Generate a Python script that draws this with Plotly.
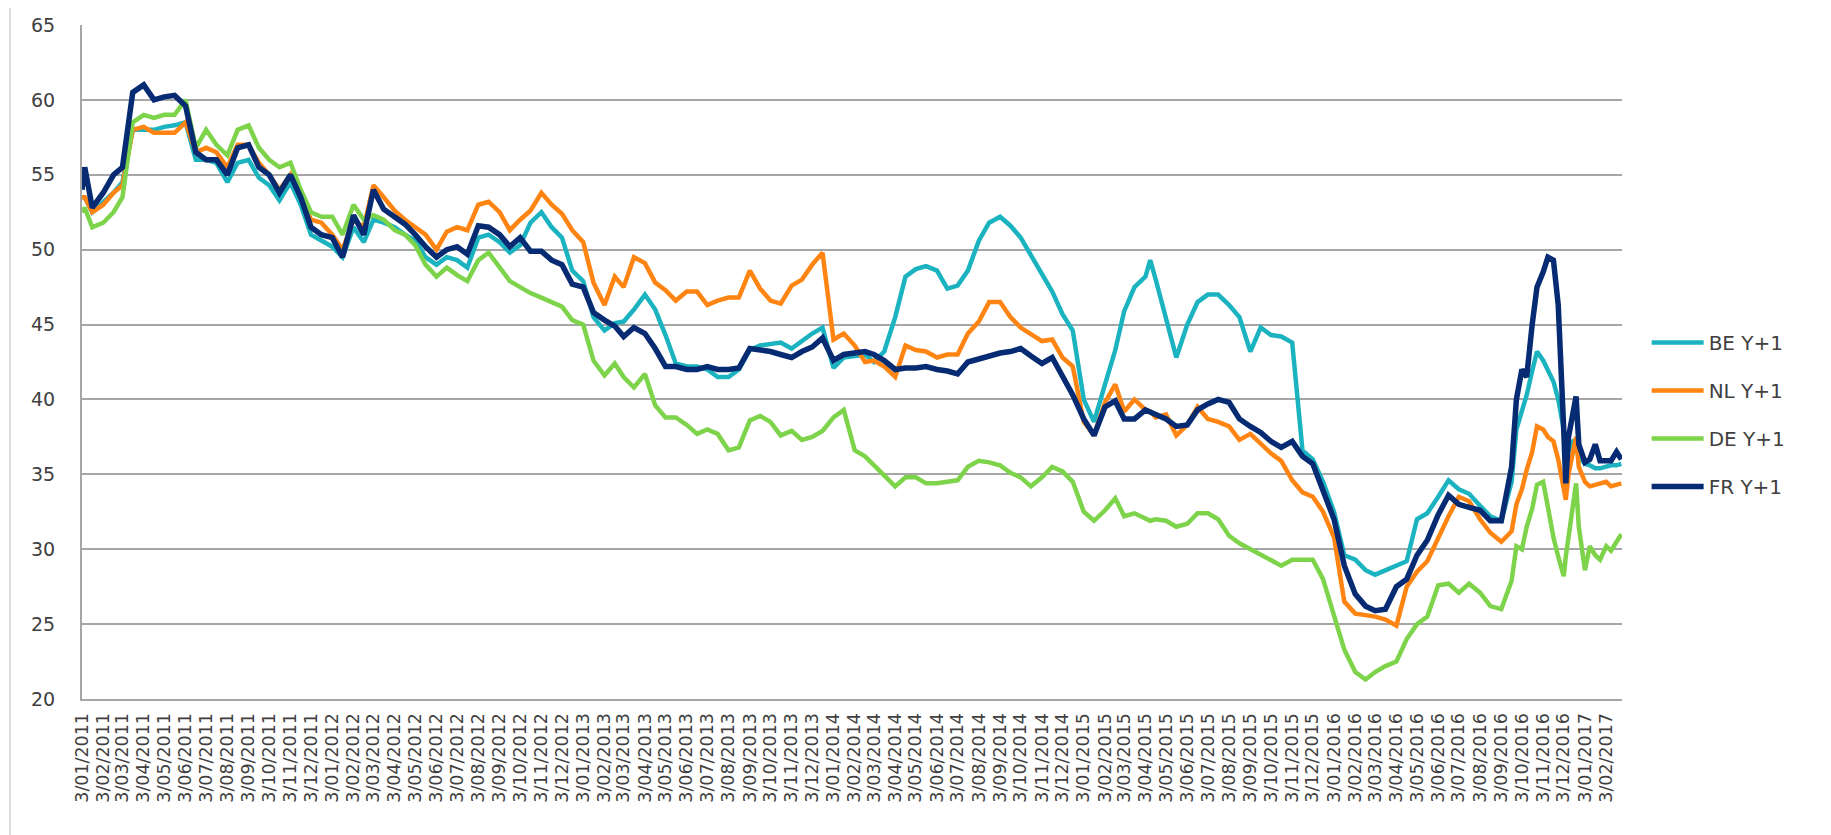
import plotly.graph_objects as go

# ---- data ----
dates = [
    "2011-01-03", "2011-01-07", "2011-01-18", "2011-02-03", "2011-02-18", "2011-03-03", "2011-03-18",
    "2011-04-03", "2011-04-18", "2011-05-03", "2011-05-18", "2011-06-03", "2011-06-18", "2011-07-03",
    "2011-07-18", "2011-08-03", "2011-08-18", "2011-09-03", "2011-09-18", "2011-10-03", "2011-10-18",
    "2011-11-03", "2011-11-18", "2011-12-03", "2011-12-18",
    "2012-01-03", "2012-01-18", "2012-02-03", "2012-02-18", "2012-03-03", "2012-03-18", "2012-04-03",
    "2012-04-18", "2012-05-03", "2012-05-18", "2012-06-03", "2012-06-18", "2012-07-03", "2012-07-18",
    "2012-08-03", "2012-08-18", "2012-09-03", "2012-09-18", "2012-10-03", "2012-10-18", "2012-11-03",
    "2012-11-18", "2012-12-03", "2012-12-18",
    "2013-01-03", "2013-01-18", "2013-02-03", "2013-02-18", "2013-03-03", "2013-03-18", "2013-04-03",
    "2013-04-18", "2013-05-03", "2013-05-18", "2013-06-03", "2013-06-18", "2013-07-03", "2013-07-18",
    "2013-08-03", "2013-08-18", "2013-09-03", "2013-09-18", "2013-10-03", "2013-10-18", "2013-11-03",
    "2013-11-18", "2013-12-03", "2013-12-18",
    "2014-01-03", "2014-01-18", "2014-02-03", "2014-02-18", "2014-03-03", "2014-03-18", "2014-04-03",
    "2014-04-18", "2014-05-03", "2014-05-18", "2014-06-03", "2014-06-18", "2014-07-03", "2014-07-18",
    "2014-08-03", "2014-08-18", "2014-09-03", "2014-09-18", "2014-10-03", "2014-10-18", "2014-11-03",
    "2014-11-18", "2014-12-03", "2014-12-18",
    "2015-01-03", "2015-01-18", "2015-02-03", "2015-02-18", "2015-03-03", "2015-03-18", "2015-04-03",
    "2015-04-10", "2015-04-18", "2015-05-03", "2015-05-18", "2015-06-03", "2015-06-18", "2015-07-03",
    "2015-07-18", "2015-08-03", "2015-08-18", "2015-09-03", "2015-09-18", "2015-10-03", "2015-10-18",
    "2015-11-03", "2015-11-18", "2015-12-03", "2015-12-18",
    "2016-01-03", "2016-01-18", "2016-02-03", "2016-02-18", "2016-03-03", "2016-03-18", "2016-04-03",
    "2016-04-18", "2016-05-03", "2016-05-18", "2016-06-03", "2016-06-18", "2016-07-03", "2016-07-18",
    "2016-08-03", "2016-08-18", "2016-09-03", "2016-09-18", "2016-09-25", "2016-10-03", "2016-10-10",
    "2016-10-18", "2016-10-25", "2016-11-03", "2016-11-10", "2016-11-18", "2016-11-25", "2016-12-03",
    "2016-12-06", "2016-12-10", "2016-12-18", "2016-12-21", "2016-12-25",
    "2017-01-03", "2017-01-10", "2017-01-18", "2017-01-25", "2017-02-03", "2017-02-10", "2017-02-18",
    "2017-02-25",
]

be_y1 = [
    53.5, 53.5, 52.5, 53.2, 53.8, 54.5, 58.0, 58.0, 58.0, 58.2, 58.3, 58.5, 56.0, 56.0, 55.8, 54.5,
    55.8, 56.0, 54.8, 54.3, 53.3, 54.5, 53.0, 51.0, 50.6,
    50.2, 49.5, 51.5, 50.5, 52.0, 51.8, 51.5, 51.0, 50.6, 49.5, 49.0, 49.5, 49.3, 48.8, 50.8, 51.0,
    50.5, 49.8, 50.3, 51.8, 52.5, 51.5, 50.8, 48.6,
    47.9, 45.5, 44.6, 45.1, 45.2, 46.0, 47.0, 46.0, 44.3, 42.4, 42.2, 42.2, 42.0, 41.5, 41.5, 42.0,
    43.3, 43.6, 43.7, 43.8, 43.4, 43.9, 44.4, 44.8,
    42.1, 42.8, 42.9, 43.0, 42.5, 43.2, 45.5, 48.2, 48.7, 48.9, 48.6, 47.4, 47.6, 48.6, 50.6, 51.8,
    52.2, 51.6, 50.8, 49.6, 48.4, 47.2, 45.7, 44.6,
    40.0, 38.5, 41.0, 43.3, 45.9, 47.5, 48.2, 49.3, 48.0, 45.3, 42.8, 45.0, 46.5, 47.0, 47.0, 46.3,
    45.5, 43.2, 44.8, 44.3, 44.2, 43.8, 36.6, 36.0, 34.5,
    32.5, 29.6, 29.3, 28.6, 28.3, 28.6, 28.9, 29.2, 32.0, 32.4, 33.5, 34.6, 34.0, 33.7, 32.9, 32.2,
    31.9, 34.5, 38.0, 39.1, 40.3, 41.9, 43.2, 42.6, 42.0, 41.2, 40.0, 38.0, 36.0, 36.6, 37.3, 37.0,
    36.2,
    35.7, 35.6, 35.4, 35.4, 35.5, 35.6, 35.6, 35.7,
]

nl_y1 = [
    53.5, 53.5, 52.5, 53.0, 53.8, 54.3, 58.0, 58.2, 57.8, 57.8, 57.8, 58.5, 56.5, 56.8, 56.5, 55.5,
    57.0, 57.0, 55.8, 55.0, 54.0, 55.0, 53.5, 52.0, 51.8,
    51.0, 50.0, 52.0, 51.5, 54.3, 53.5, 52.6, 52.0, 51.5, 51.0, 50.0, 51.2, 51.5, 51.3, 53.0, 53.2,
    52.5, 51.3, 52.0, 52.6, 53.8, 53.0, 52.4, 51.3,
    50.5, 47.8, 46.3, 48.2, 47.5, 49.5, 49.1, 47.8, 47.3, 46.6, 47.2, 47.2, 46.3, 46.6, 46.8, 46.8,
    48.6, 47.4, 46.6, 46.4, 47.6, 48.0, 49.0, 49.8,
    44.0, 44.4, 43.6, 42.5, 42.6, 42.2, 41.5, 43.6, 43.3, 43.2, 42.8, 43.0, 43.0, 44.4, 45.2, 46.5,
    46.5, 45.5, 44.8, 44.4, 43.9, 44.0, 42.8, 42.2,
    38.5, 37.6, 39.8, 41.0, 39.2, 40.0, 39.3, 39.2, 38.8, 39.0, 37.6, 38.3, 39.5, 38.7, 38.5, 38.2,
    37.3, 37.7, 37.0, 36.4, 35.9, 34.6, 33.8, 33.5, 32.5,
    30.8, 26.5, 25.7, 25.6, 25.5, 25.3, 24.9, 27.5, 28.5, 29.2, 30.8, 32.2, 33.5, 33.2, 32.0, 31.1,
    30.5, 31.2, 33.0, 34.0, 35.3, 36.5, 38.2, 38.0, 37.5, 37.2, 36.0, 34.0, 33.3, 35.0, 37.0, 37.5,
    35.5,
    34.5, 34.2, 34.3, 34.4, 34.5, 34.2, 34.3, 34.4,
]

de_y1 = [
    52.5, 52.8, 51.5, 51.8, 52.5, 53.5, 58.5, 59.0, 58.8, 59.0, 59.0, 60.0, 56.8, 58.0, 57.0, 56.3,
    58.0, 58.3, 56.8, 56.0, 55.5, 55.8, 54.0, 52.5, 52.2,
    52.2, 51.0, 53.0, 52.0, 52.3, 52.0, 51.3, 51.0, 50.3, 49.0, 48.2, 48.8, 48.3, 47.9, 49.3, 49.8,
    48.8, 47.9, 47.5, 47.1, 46.8, 46.5, 46.2, 45.3,
    45.0, 42.6, 41.6, 42.4, 41.5, 40.8, 41.7, 39.6, 38.8, 38.8, 38.3, 37.7, 38.0, 37.7, 36.6, 36.8,
    38.6, 38.9, 38.5, 37.6, 37.9, 37.3, 37.5, 37.9,
    38.8, 39.3, 36.6, 36.2, 35.6, 35.0, 34.2, 34.8, 34.8, 34.4, 34.4, 34.5, 34.6, 35.5, 35.9, 35.8,
    35.6, 35.1, 34.8, 34.2, 34.8, 35.5, 35.2, 34.5,
    32.5, 31.9, 32.6, 33.4, 32.2, 32.4, 32.0, 31.9, 32.0, 31.9, 31.5, 31.7, 32.4, 32.4, 32.0, 30.9,
    30.4, 30.0, 29.6, 29.2, 28.9, 29.3, 29.3, 29.3, 28.0,
    25.7, 23.3, 21.8, 21.3, 21.8, 22.2, 22.5, 24.0, 25.0, 25.5, 27.6, 27.7, 27.1, 27.7, 27.1, 26.2,
    26.0, 27.9, 30.2, 30.0, 31.5, 32.7, 34.3, 34.5, 32.8, 30.8, 29.5, 28.2, 29.5, 30.8, 33.0, 34.4,
    31.5,
    28.6, 30.2, 29.6, 29.3, 30.2, 29.9, 30.5, 31.0,
]

fr_y1 = [
    54.0, 55.5, 52.8, 53.8, 55.0, 55.5, 60.5, 61.0, 60.0, 60.2, 60.3, 59.6, 56.5, 56.0, 56.0, 55.0,
    56.8, 57.0, 55.5, 55.0, 53.8, 55.0, 53.5, 51.5, 51.0,
    50.8, 49.5, 52.3, 51.0, 54.0, 52.7, 52.2, 51.7, 51.0, 50.2, 49.5, 50.0, 50.2, 49.7, 51.6, 51.5,
    51.0, 50.2, 50.8, 49.9, 49.9, 49.3, 49.0, 47.7,
    47.5, 45.8, 45.3, 44.9, 44.2, 44.8, 44.4, 43.4, 42.2, 42.2, 42.0, 42.0, 42.2, 42.0, 42.0, 42.1,
    43.4, 43.3, 43.2, 43.0, 42.8, 43.2, 43.5, 44.1,
    42.6, 43.0, 43.1, 43.2, 43.0, 42.6, 42.0, 42.1, 42.1, 42.2, 42.0, 41.9, 41.7, 42.5, 42.7, 42.9,
    43.1, 43.2, 43.4, 42.9, 42.4, 42.8, 41.5, 40.3,
    38.7, 37.6, 39.5, 39.9, 38.7, 38.7, 39.3, 39.2, 39.0, 38.7, 38.2, 38.3, 39.3, 39.7, 40.0, 39.8,
    38.7, 38.2, 37.8, 37.2, 36.8, 37.2, 36.2, 35.7, 34.0,
    32.0, 28.9, 27.0, 26.2, 25.9, 26.0, 27.5, 28.0, 29.6, 30.6, 32.3, 33.6, 33.0, 32.8, 32.6, 31.9,
    31.9, 35.5, 40.0, 42.0, 41.5, 45.0, 47.5, 48.5, 49.5, 49.3, 46.3, 38.0, 34.4, 37.5, 39.7, 40.2,
    37.0,
    35.8, 36.0, 37.0, 35.9, 35.9, 35.9, 36.5, 36.0,
]

series_names = ["BE Y+1", "NL Y+1", "DE Y+1", "FR Y+1"]
series_colors = ["#1bb3bf", "#ff8412", "#7dd34a", "#062b72"]

tick_labels = [
    "3/01/2011", "3/02/2011", "3/03/2011", "3/04/2011", "3/05/2011", "3/06/2011", "3/07/2011", "3/08/2011",
    "3/09/2011", "3/10/2011", "3/11/2011", "3/12/2011",
    "3/01/2012", "3/02/2012", "3/03/2012", "3/04/2012", "3/05/2012", "3/06/2012", "3/07/2012", "3/08/2012",
    "3/09/2012", "3/10/2012", "3/11/2012", "3/12/2012",
    "3/01/2013", "3/02/2013", "3/03/2013", "3/04/2013", "3/05/2013", "3/06/2013", "3/07/2013", "3/08/2013",
    "3/09/2013", "3/10/2013", "3/11/2013", "3/12/2013",
    "3/01/2014", "3/02/2014", "3/03/2014", "3/04/2014", "3/05/2014", "3/06/2014", "3/07/2014", "3/08/2014",
    "3/09/2014", "3/10/2014", "3/11/2014", "3/12/2014",
    "3/01/2015", "3/02/2015", "3/03/2015", "3/04/2015", "3/05/2015", "3/06/2015", "3/07/2015", "3/08/2015",
    "3/09/2015", "3/10/2015", "3/11/2015", "3/12/2015",
    "3/01/2016", "3/02/2016", "3/03/2016", "3/04/2016", "3/05/2016", "3/06/2016", "3/07/2016", "3/08/2016",
    "3/09/2016", "3/10/2016", "3/11/2016", "3/12/2016",
    "3/01/2017", "3/02/2017",
]

for s in (be_y1, nl_y1, de_y1, fr_y1):
    assert len(s) == len(dates), (len(s), len(dates))

# tick positions derived from the d/mm/yyyy labels
tick_vals = []
for lab in tick_labels:
    d, m, y = lab.split("/")
    tick_vals.append(f"{y}-{m}-{int(d):02d}")

fig = go.Figure()
widths = [4.5, 4.5, 4.5, 5.5]
for i, (name, vals) in enumerate(zip(series_names, [be_y1, nl_y1, de_y1, fr_y1])):
    fig.add_trace(go.Scatter(
        x=dates, y=vals, mode="lines", name=name,
        legendgroup=name,
        line=dict(color=series_colors[i], width=widths[i]),
    ))

FONT = "DejaVu Sans"
TXT = "#404040"
GRID = "#a6a6a6"

fig.update_layout(
    width=1831, height=835,
    margin=dict(l=74, r=217, t=17, b=144, autoexpand=False),
    paper_bgcolor="white", plot_bgcolor="white",
    font=dict(family=FONT, color=TXT),
    showlegend=True,
    legend=dict(
        x=1.016, xanchor="left", y=0.558, yanchor="top",
        font=dict(family=FONT, size=20, color=TXT),
        tracegroupgap=19, itemwidth=52,
        bgcolor="rgba(0,0,0,0)",
    ),
    xaxis=dict(
        type="date", range=["2011-01-03", "2017-02-26"],
        tickmode="array", tickvals=tick_vals, ticktext=tick_labels,
        tickangle=-90, tickfont=dict(family=FONT, size=17.5, color=TXT),
        showgrid=False, showline=True, linecolor=GRID, linewidth=2,
        ticks="", ticklabelstandoff=5, automargin=False, zeroline=False,
    ),
    yaxis=dict(
        range=[20, 65], tick0=20, dtick=5,
        tickfont=dict(family=FONT, size=19, color=TXT),
        showgrid=True, gridcolor=GRID, gridwidth=1.5,
        showline=True, linecolor=GRID, linewidth=2,
        ticks="", ticklabelstandoff=21, automargin=False, zeroline=False,
    ),
    shapes=[dict(
        type="rect", xref="paper", yref="paper",
        x0=-0.0468, x1=1.135, y0=-0.2077, y1=1.04,
        line=dict(color="#cfcfcf", width=1.5), fillcolor="rgba(0,0,0,0)", layer="below",
    )],
)

fig.write_html("out.html")
